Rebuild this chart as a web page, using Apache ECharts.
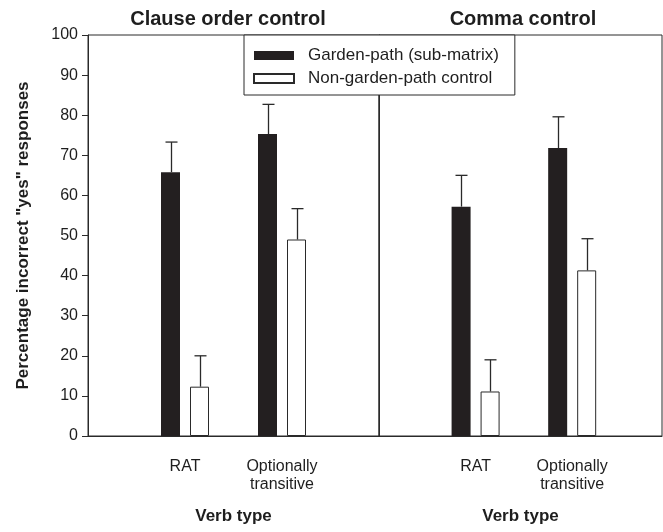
<!DOCTYPE html>
<html>
<head>
<meta charset="utf-8">
<script src="https://cdn.jsdelivr.net/npm/echarts@6/dist/echarts.min.js"></script>
<style>
  html, body { margin: 0; padding: 0; background: #fff; }
  #chart { width: 663px; height: 532px; }
</style>
</head>
<body>
<div id="chart"></div>
<script>
// Data
const panels = ['Clause order control', 'Comma control'];
const verbTypes = ['RAT', 'Optionally\ntransitive'];
const seriesNames = ['Garden-path (sub-matrix)', 'Non-garden-path control'];

// mean % incorrect "yes" responses, per panel
const gardenPath = [[65.8, 75.3], [57.2, 71.8]];
const nonGardenPath = [[12.3, 49.0], [11.1, 41.3]];
// upper error bar length (SE)
const gardenPathErr = [[7.5, 7.4], [7.8, 7.8]];
const nonGardenPathErr = [[7.7, 7.7], [7.9, 7.9]];

const yTicks = { min: 0, max: 100, step: 10 };

const font = '"Liberation Sans", Arial, Helvetica, sans-serif';
const ink = '#1e1e1e';
const barW = 19;
const gapPx = 10;
const half = (barW + gapPx) / 2;

const chart = echarts.init(document.getElementById('chart'));

// x position of each verb type on the panel's axis
const xPos = verbTypes.map((_, i) => i + 1);
// right panel runs off the page edge in the original
const xMax = [3, 2.93];

function barData(vals) {
  return vals.map((v, i) => [xPos[i], v]);
}
function errData(vals, errs) {
  return vals.map((v, i) => [xPos[i], v, errs[i]]);
}
function errSeries(p, vals, errs, offset) {
  return {
    type: 'custom',
    name: 'err' + p + offset,
    xAxisIndex: p,
    yAxisIndex: p,
    z: 5,
    silent: true,
    data: errData(vals, errs),
    renderItem: function (params, api) {
      const base = api.coord([api.value(0), api.value(1)]);
      const top = api.coord([api.value(0), api.value(1) + api.value(2)]);
      const cx = Math.round(base[0] + offset) + 0.5;
      const style = { stroke: '#2a2a2a', lineWidth: 1.3 };
      return {
        type: 'group',
        children: [
          { type: 'line', shape: { x1: cx, y1: base[1], x2: cx, y2: top[1] }, style: style },
          { type: 'line', shape: { x1: cx - 6, y1: top[1], x2: cx + 6, y2: top[1] }, style: style }
        ]
      };
    }
  };
}

const grids = [
  { left: 88, top: 35, width: 291, bottom: 96, show: true, borderColor: '#2a2a2a', borderWidth: 1 },
  { left: 379, top: 35, right: 1, bottom: 96, show: true, borderColor: '#2a2a2a', borderWidth: 1 }
];

const xAxes = panels.map((_, p) => ({
  type: 'value',
  gridIndex: p,
  min: 0,
  max: xMax[p],
  interval: 1,
  axisLine: { show: true, lineStyle: { color: '#2a2a2a', width: 1 } },
  axisTick: { show: false },
  splitLine: { show: false },
  axisLabel: {
    margin: 22,
    fontFamily: font,
    fontSize: 16,
    lineHeight: 18,
    color: ink,
    showMinLabel: false,
    showMaxLabel: false,
    formatter: v => (v >= 1 && v <= verbTypes.length ? verbTypes[v - 1] : '')
  },
  name: 'Verb type',
  nameLocation: 'middle',
  nameGap: 72,
  nameTextStyle: { fontFamily: font, fontSize: 17, fontWeight: 'bold', color: ink }
}));

const yAxes = panels.map((_, p) => ({
  type: 'value',
  gridIndex: p,
  min: yTicks.min,
  max: yTicks.max,
  interval: yTicks.step,
  axisLine: { show: true, lineStyle: { color: '#2a2a2a', width: 1 } },
  axisTick: { show: p === 0, length: 6, lineStyle: { color: '#2a2a2a' } },
  splitLine: { show: false },
  axisLabel: { show: p === 0, margin: 10, fontFamily: font, fontSize: 16, color: ink },
  name: p === 0 ? 'Percentage incorrect "yes" responses' : '',
  nameLocation: 'middle',
  nameGap: 56,
  nameTextStyle: { fontFamily: font, fontSize: 17, fontWeight: 'bold', color: ink }
}));

const series = [];
panels.forEach((_, p) => {
  series.push({
    type: 'bar',
    name: seriesNames[0],
    xAxisIndex: p,
    yAxisIndex: p,
    barWidth: barW,
    barGap: (gapPx / barW * 100) + '%',
    itemStyle: { color: '#231f20', borderColor: '#231f20', borderWidth: 0 },
    data: barData(gardenPath[p])
  });
  series.push({
    type: 'bar',
    name: seriesNames[1],
    xAxisIndex: p,
    yAxisIndex: p,
    barWidth: barW,
    barGap: (gapPx / barW * 100) + '%',
    itemStyle: { color: '#ffffff', borderColor: '#2a2a2a', borderWidth: 1 },
    data: barData(nonGardenPath[p])
  });
  series.push(errSeries(p, gardenPath[p], gardenPathErr[p], -half));
  series.push(errSeries(p, nonGardenPath[p], nonGardenPathErr[p], half));
});

const option = {
  backgroundColor: '#fff',
  animation: false,
  title: [
    { text: panels[0], left: 223, top: 4, textAlign: 'center',
      textStyle: { fontFamily: font, fontSize: 20, fontWeight: 'bold', color: ink } },
    { text: panels[1], left: 518, top: 4, textAlign: 'center',
      textStyle: { fontFamily: font, fontSize: 20, fontWeight: 'bold', color: ink } }
  ],
  legend: {
    data: seriesNames,
    orient: 'vertical',
    left: 244,
    top: 35,
    padding: [12, 16, 8, 9],
    icon: 'rect',
    itemWidth: 40,
    itemHeight: 9,
    itemGap: 6,
    backgroundColor: '#fff',
    borderColor: '#2a2a2a',
    borderWidth: 1,
    borderRadius: 0,
    z: 10,
    textStyle: { fontFamily: font, fontSize: 17, color: ink, padding: [0, 0, 0, 9] }
  },
  grid: grids,
  xAxis: xAxes,
  yAxis: yAxes,
  series: series
};

chart.setOption(option);
</script>
</body>
</html>
